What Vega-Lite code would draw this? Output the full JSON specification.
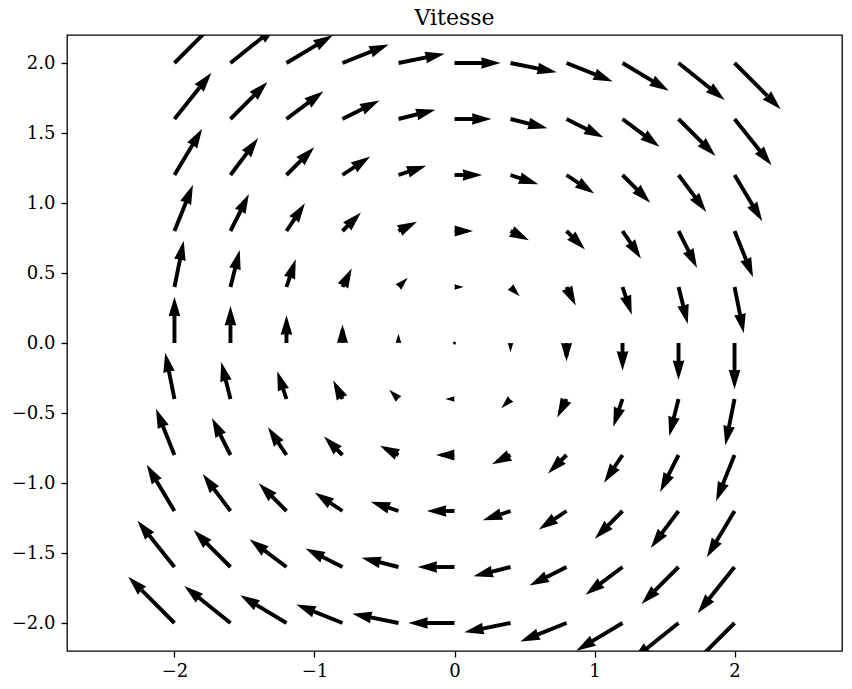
{
  "$schema": "https://vega.github.io/schema/vega-lite/v6.json",
  "width": 775,
  "height": 616,
  "autosize": {"type": "none"},
  "padding": {"left": 67, "top": 35, "right": 10, "bottom": 38},
  "title": {"text": "Vitesse", "font": "DejaVu Serif", "fontSize": 22, "fontWeight": "normal", "color": "black", "offset": 5.5},
  "config": {
    "view": {"stroke": "black", "strokeWidth": 1.3},
    "axis": {"domain": false, "grid": false, "ticks": true, "tickSize": 6, "tickWidth": 1.3, "tickColor": "black", "labelColor": "black", "labelFont": "DejaVu Serif", "labelFontSize": 18, "labelPadding": 5, "title": null}
  },
  "datasets": {
    "q": [
      {"x":-2,"y":2,"tx":-1.67,"ty":2.33,"sx":-1.766,"sy":2.234,"a":45,"m":2.828},
      {"x":-1.6,"y":2,"tx":-1.27,"ty":2.264,"sx":-1.366,"sy":2.187,"a":51.34,"m":2.561},
      {"x":-1.2,"y":2,"tx":-0.87,"ty":2.198,"sx":-0.966,"sy":2.14,"a":59.04,"m":2.332},
      {"x":-0.8,"y":2,"tx":-0.47,"ty":2.132,"sx":-0.566,"sy":2.094,"a":68.2,"m":2.154},
      {"x":-0.4,"y":2,"tx":-0.07,"ty":2.066,"sx":-0.166,"sy":2.047,"a":78.69,"m":2.04},
      {"x":0,"y":2,"tx":0.33,"ty":2,"sx":0.234,"sy":2,"a":90,"m":2},
      {"x":0.4,"y":2,"tx":0.73,"ty":1.934,"sx":0.634,"sy":1.953,"a":101.31,"m":2.04},
      {"x":0.8,"y":2,"tx":1.13,"ty":1.868,"sx":1.034,"sy":1.906,"a":111.8,"m":2.154},
      {"x":1.2,"y":2,"tx":1.53,"ty":1.802,"sx":1.434,"sy":1.86,"a":120.96,"m":2.332},
      {"x":1.6,"y":2,"tx":1.93,"ty":1.736,"sx":1.834,"sy":1.813,"a":128.66,"m":2.561},
      {"x":2,"y":2,"tx":2.33,"ty":1.67,"sx":2.234,"sy":1.766,"a":135,"m":2.828},

      {"x":-2,"y":1.6,"tx":-1.736,"ty":1.93,"sx":-1.813,"sy":1.834,"a":38.66,"m":2.561},
      {"x":-1.6,"y":1.6,"tx":-1.336,"ty":1.864,"sx":-1.413,"sy":1.787,"a":45,"m":2.263},
      {"x":-1.2,"y":1.6,"tx":-0.936,"ty":1.798,"sx":-1.013,"sy":1.74,"a":53.13,"m":2.0},
      {"x":-0.8,"y":1.6,"tx":-0.536,"ty":1.732,"sx":-0.613,"sy":1.694,"a":63.43,"m":1.789},
      {"x":-0.4,"y":1.6,"tx":-0.136,"ty":1.666,"sx":-0.213,"sy":1.647,"a":75.96,"m":1.649},
      {"x":0,"y":1.6,"tx":0.264,"ty":1.6,"sx":0.187,"sy":1.6,"a":90,"m":1.6},
      {"x":0.4,"y":1.6,"tx":0.664,"ty":1.534,"sx":0.587,"sy":1.553,"a":104.04,"m":1.649},
      {"x":0.8,"y":1.6,"tx":1.064,"ty":1.468,"sx":0.987,"sy":1.506,"a":116.57,"m":1.789},
      {"x":1.2,"y":1.6,"tx":1.464,"ty":1.402,"sx":1.387,"sy":1.46,"a":126.87,"m":2.0},
      {"x":1.6,"y":1.6,"tx":1.864,"ty":1.336,"sx":1.787,"sy":1.413,"a":135,"m":2.263},
      {"x":2,"y":1.6,"tx":2.264,"ty":1.27,"sx":2.187,"sy":1.366,"a":141.34,"m":2.561},

      {"x":-2,"y":1.2,"tx":-1.802,"ty":1.53,"sx":-1.86,"sy":1.434,"a":30.96,"m":2.332},
      {"x":-1.6,"y":1.2,"tx":-1.402,"ty":1.464,"sx":-1.46,"sy":1.387,"a":36.87,"m":2.0},
      {"x":-1.2,"y":1.2,"tx":-1.002,"ty":1.398,"sx":-1.06,"sy":1.34,"a":45,"m":1.697},
      {"x":-0.8,"y":1.2,"tx":-0.602,"ty":1.332,"sx":-0.66,"sy":1.294,"a":56.31,"m":1.442},
      {"x":-0.4,"y":1.2,"tx":-0.202,"ty":1.266,"sx":-0.26,"sy":1.247,"a":71.57,"m":1.265},
      {"x":0,"y":1.2,"tx":0.198,"ty":1.2,"sx":0.14,"sy":1.2,"a":90,"m":1.2},
      {"x":0.4,"y":1.2,"tx":0.598,"ty":1.134,"sx":0.54,"sy":1.153,"a":108.43,"m":1.265},
      {"x":0.8,"y":1.2,"tx":0.998,"ty":1.068,"sx":0.94,"sy":1.106,"a":123.69,"m":1.442},
      {"x":1.2,"y":1.2,"tx":1.398,"ty":1.002,"sx":1.34,"sy":1.06,"a":135,"m":1.697},
      {"x":1.6,"y":1.2,"tx":1.798,"ty":0.936,"sx":1.74,"sy":1.013,"a":143.13,"m":2.0},
      {"x":2,"y":1.2,"tx":2.198,"ty":0.87,"sx":2.14,"sy":0.966,"a":149.04,"m":2.332},

      {"x":-2,"y":0.8,"tx":-1.868,"ty":1.13,"sx":-1.906,"sy":1.034,"a":21.8,"m":2.154},
      {"x":-1.6,"y":0.8,"tx":-1.468,"ty":1.064,"sx":-1.506,"sy":0.987,"a":26.57,"m":1.789},
      {"x":-1.2,"y":0.8,"tx":-1.068,"ty":0.998,"sx":-1.106,"sy":0.94,"a":33.69,"m":1.442},
      {"x":-0.8,"y":0.8,"tx":-0.668,"ty":0.932,"sx":-0.706,"sy":0.894,"a":45,"m":1.131},
      {"x":-0.4,"y":0.8,"tx":-0.268,"ty":0.866,"sx":-0.306,"sy":0.847,"a":63.43,"m":0.894},
      {"x":0,"y":0.8,"tx":0.132,"ty":0.8,"sx":0.094,"sy":0.8,"a":90,"m":0.8},
      {"x":0.4,"y":0.8,"tx":0.532,"ty":0.734,"sx":0.494,"sy":0.753,"a":116.57,"m":0.894},
      {"x":0.8,"y":0.8,"tx":0.932,"ty":0.668,"sx":0.894,"sy":0.706,"a":135,"m":1.131},
      {"x":1.2,"y":0.8,"tx":1.332,"ty":0.602,"sx":1.294,"sy":0.66,"a":146.31,"m":1.442},
      {"x":1.6,"y":0.8,"tx":1.732,"ty":0.536,"sx":1.694,"sy":0.613,"a":153.43,"m":1.789},
      {"x":2,"y":0.8,"tx":2.132,"ty":0.47,"sx":2.094,"sy":0.566,"a":158.2,"m":2.154},

      {"x":-2,"y":0.4,"tx":-1.934,"ty":0.73,"sx":-1.953,"sy":0.634,"a":11.31,"m":2.04},
      {"x":-1.6,"y":0.4,"tx":-1.534,"ty":0.664,"sx":-1.553,"sy":0.587,"a":14.04,"m":1.649},
      {"x":-1.2,"y":0.4,"tx":-1.134,"ty":0.598,"sx":-1.153,"sy":0.54,"a":18.43,"m":1.265},
      {"x":-0.8,"y":0.4,"tx":-0.734,"ty":0.532,"sx":-0.753,"sy":0.494,"a":26.57,"m":0.894},
      {"x":-0.4,"y":0.4,"tx":-0.334,"ty":0.466,"sx":-0.353,"sy":0.447,"a":45,"m":0.566},
      {"x":0,"y":0.4,"tx":0.066,"ty":0.4,"sx":0.047,"sy":0.4,"a":90,"m":0.4},
      {"x":0.4,"y":0.4,"tx":0.466,"ty":0.334,"sx":0.447,"sy":0.353,"a":135,"m":0.566},
      {"x":0.8,"y":0.4,"tx":0.866,"ty":0.268,"sx":0.847,"sy":0.306,"a":153.43,"m":0.894},
      {"x":1.2,"y":0.4,"tx":1.266,"ty":0.202,"sx":1.247,"sy":0.26,"a":161.57,"m":1.265},
      {"x":1.6,"y":0.4,"tx":1.666,"ty":0.136,"sx":1.647,"sy":0.213,"a":165.96,"m":1.649},
      {"x":2,"y":0.4,"tx":2.066,"ty":0.07,"sx":2.047,"sy":0.166,"a":168.69,"m":2.04},

      {"x":-2,"y":0,"tx":-2,"ty":0.33,"sx":-2,"sy":0.234,"a":0,"m":2},
      {"x":-1.6,"y":0,"tx":-1.6,"ty":0.264,"sx":-1.6,"sy":0.187,"a":0,"m":1.6},
      {"x":-1.2,"y":0,"tx":-1.2,"ty":0.198,"sx":-1.2,"sy":0.14,"a":0,"m":1.2},
      {"x":-0.8,"y":0,"tx":-0.8,"ty":0.132,"sx":-0.8,"sy":0.094,"a":0,"m":0.8},
      {"x":-0.4,"y":0,"tx":-0.4,"ty":0.066,"sx":-0.4,"sy":0.047,"a":0,"m":0.4},
      {"x":0,"y":0,"tx":0,"ty":0,"sx":0,"sy":0,"a":0,"m":0},
      {"x":0.4,"y":0,"tx":0.4,"ty":-0.066,"sx":0.4,"sy":-0.047,"a":180,"m":0.4},
      {"x":0.8,"y":0,"tx":0.8,"ty":-0.132,"sx":0.8,"sy":-0.094,"a":180,"m":0.8},
      {"x":1.2,"y":0,"tx":1.2,"ty":-0.198,"sx":1.2,"sy":-0.14,"a":180,"m":1.2},
      {"x":1.6,"y":0,"tx":1.6,"ty":-0.264,"sx":1.6,"sy":-0.187,"a":180,"m":1.6},
      {"x":2,"y":0,"tx":2,"ty":-0.33,"sx":2,"sy":-0.234,"a":180,"m":2},

      {"x":-2,"y":-0.4,"tx":-2.066,"ty":-0.07,"sx":-2.047,"sy":-0.166,"a":348.69,"m":2.04},
      {"x":-1.6,"y":-0.4,"tx":-1.666,"ty":-0.136,"sx":-1.647,"sy":-0.213,"a":345.96,"m":1.649},
      {"x":-1.2,"y":-0.4,"tx":-1.266,"ty":-0.202,"sx":-1.247,"sy":-0.26,"a":341.57,"m":1.265},
      {"x":-0.8,"y":-0.4,"tx":-0.866,"ty":-0.268,"sx":-0.847,"sy":-0.306,"a":333.43,"m":0.894},
      {"x":-0.4,"y":-0.4,"tx":-0.466,"ty":-0.334,"sx":-0.447,"sy":-0.353,"a":315,"m":0.566},
      {"x":0,"y":-0.4,"tx":-0.066,"ty":-0.4,"sx":-0.047,"sy":-0.4,"a":270,"m":0.4},
      {"x":0.4,"y":-0.4,"tx":0.334,"ty":-0.466,"sx":0.353,"sy":-0.447,"a":225,"m":0.566},
      {"x":0.8,"y":-0.4,"tx":0.734,"ty":-0.532,"sx":0.753,"sy":-0.494,"a":206.57,"m":0.894},
      {"x":1.2,"y":-0.4,"tx":1.134,"ty":-0.598,"sx":1.153,"sy":-0.54,"a":198.43,"m":1.265},
      {"x":1.6,"y":-0.4,"tx":1.534,"ty":-0.664,"sx":1.553,"sy":-0.587,"a":194.04,"m":1.649},
      {"x":2,"y":-0.4,"tx":1.934,"ty":-0.73,"sx":1.953,"sy":-0.634,"a":191.31,"m":2.04},

      {"x":-2,"y":-0.8,"tx":-2.132,"ty":-0.47,"sx":-2.094,"sy":-0.566,"a":338.2,"m":2.154},
      {"x":-1.6,"y":-0.8,"tx":-1.732,"ty":-0.536,"sx":-1.694,"sy":-0.613,"a":333.43,"m":1.789},
      {"x":-1.2,"y":-0.8,"tx":-1.332,"ty":-0.602,"sx":-1.294,"sy":-0.66,"a":326.31,"m":1.442},
      {"x":-0.8,"y":-0.8,"tx":-0.932,"ty":-0.668,"sx":-0.894,"sy":-0.706,"a":315,"m":1.131},
      {"x":-0.4,"y":-0.8,"tx":-0.532,"ty":-0.734,"sx":-0.494,"sy":-0.753,"a":296.57,"m":0.894},
      {"x":0,"y":-0.8,"tx":-0.132,"ty":-0.8,"sx":-0.094,"sy":-0.8,"a":270,"m":0.8},
      {"x":0.4,"y":-0.8,"tx":0.268,"ty":-0.866,"sx":0.306,"sy":-0.847,"a":243.43,"m":0.894},
      {"x":0.8,"y":-0.8,"tx":0.668,"ty":-0.932,"sx":0.706,"sy":-0.894,"a":225,"m":1.131},
      {"x":1.2,"y":-0.8,"tx":1.068,"ty":-0.998,"sx":1.106,"sy":-0.94,"a":213.69,"m":1.442},
      {"x":1.6,"y":-0.8,"tx":1.468,"ty":-1.064,"sx":1.506,"sy":-0.987,"a":206.57,"m":1.789},
      {"x":2,"y":-0.8,"tx":1.868,"ty":-1.13,"sx":1.906,"sy":-1.034,"a":201.8,"m":2.154},

      {"x":-2,"y":-1.2,"tx":-2.198,"ty":-0.87,"sx":-2.14,"sy":-0.966,"a":329.04,"m":2.332},
      {"x":-1.6,"y":-1.2,"tx":-1.798,"ty":-0.936,"sx":-1.74,"sy":-1.013,"a":323.13,"m":2.0},
      {"x":-1.2,"y":-1.2,"tx":-1.398,"ty":-1.002,"sx":-1.34,"sy":-1.06,"a":315,"m":1.697},
      {"x":-0.8,"y":-1.2,"tx":-0.998,"ty":-1.068,"sx":-0.94,"sy":-1.106,"a":303.69,"m":1.442},
      {"x":-0.4,"y":-1.2,"tx":-0.598,"ty":-1.134,"sx":-0.54,"sy":-1.153,"a":288.43,"m":1.265},
      {"x":0,"y":-1.2,"tx":-0.198,"ty":-1.2,"sx":-0.14,"sy":-1.2,"a":270,"m":1.2},
      {"x":0.4,"y":-1.2,"tx":0.202,"ty":-1.266,"sx":0.26,"sy":-1.247,"a":251.57,"m":1.265},
      {"x":0.8,"y":-1.2,"tx":0.602,"ty":-1.332,"sx":0.66,"sy":-1.294,"a":236.31,"m":1.442},
      {"x":1.2,"y":-1.2,"tx":1.002,"ty":-1.398,"sx":1.06,"sy":-1.34,"a":225,"m":1.697},
      {"x":1.6,"y":-1.2,"tx":1.402,"ty":-1.464,"sx":1.46,"sy":-1.387,"a":216.87,"m":2.0},
      {"x":2,"y":-1.2,"tx":1.802,"ty":-1.53,"sx":1.86,"sy":-1.434,"a":210.96,"m":2.332},

      {"x":-2,"y":-1.6,"tx":-2.264,"ty":-1.27,"sx":-2.187,"sy":-1.366,"a":321.34,"m":2.561},
      {"x":-1.6,"y":-1.6,"tx":-1.864,"ty":-1.336,"sx":-1.787,"sy":-1.413,"a":315,"m":2.263},
      {"x":-1.2,"y":-1.6,"tx":-1.464,"ty":-1.402,"sx":-1.387,"sy":-1.46,"a":306.87,"m":2.0},
      {"x":-0.8,"y":-1.6,"tx":-1.064,"ty":-1.468,"sx":-0.987,"sy":-1.506,"a":296.57,"m":1.789},
      {"x":-0.4,"y":-1.6,"tx":-0.664,"ty":-1.534,"sx":-0.587,"sy":-1.553,"a":284.04,"m":1.649},
      {"x":0,"y":-1.6,"tx":-0.264,"ty":-1.6,"sx":-0.187,"sy":-1.6,"a":270,"m":1.6},
      {"x":0.4,"y":-1.6,"tx":0.136,"ty":-1.666,"sx":0.213,"sy":-1.647,"a":255.96,"m":1.649},
      {"x":0.8,"y":-1.6,"tx":0.536,"ty":-1.732,"sx":0.613,"sy":-1.694,"a":243.43,"m":1.789},
      {"x":1.2,"y":-1.6,"tx":0.936,"ty":-1.798,"sx":1.013,"sy":-1.74,"a":233.13,"m":2.0},
      {"x":1.6,"y":-1.6,"tx":1.336,"ty":-1.864,"sx":1.413,"sy":-1.787,"a":225,"m":2.263},
      {"x":2,"y":-1.6,"tx":1.736,"ty":-1.93,"sx":1.813,"sy":-1.834,"a":218.66,"m":2.561},

      {"x":-2,"y":-2,"tx":-2.33,"ty":-1.67,"sx":-2.234,"sy":-1.766,"a":315,"m":2.828},
      {"x":-1.6,"y":-2,"tx":-1.93,"ty":-1.736,"sx":-1.834,"sy":-1.813,"a":308.66,"m":2.561},
      {"x":-1.2,"y":-2,"tx":-1.53,"ty":-1.802,"sx":-1.434,"sy":-1.86,"a":300.96,"m":2.332},
      {"x":-0.8,"y":-2,"tx":-1.13,"ty":-1.868,"sx":-1.034,"sy":-1.906,"a":291.8,"m":2.154},
      {"x":-0.4,"y":-2,"tx":-0.73,"ty":-1.934,"sx":-0.634,"sy":-1.953,"a":281.31,"m":2.04},
      {"x":0,"y":-2,"tx":-0.33,"ty":-2,"sx":-0.234,"sy":-2,"a":270,"m":2},
      {"x":0.4,"y":-2,"tx":0.07,"ty":-2.066,"sx":0.166,"sy":-2.047,"a":258.69,"m":2.04},
      {"x":0.8,"y":-2,"tx":0.47,"ty":-2.132,"sx":0.566,"sy":-2.094,"a":248.2,"m":2.154},
      {"x":1.2,"y":-2,"tx":0.87,"ty":-2.198,"sx":0.966,"sy":-2.14,"a":239.04,"m":2.332},
      {"x":1.6,"y":-2,"tx":1.27,"ty":-2.264,"sx":1.366,"sy":-2.187,"a":231.34,"m":2.561},
      {"x":2,"y":-2,"tx":1.67,"ty":-2.33,"sx":1.766,"sy":-2.234,"a":225,"m":2.828}
    ]
  },
  "data": {"name": "q"},
  "layer": [
    {
      "transform": [{"filter": "datum.m > 0.7"}],
      "mark": {"type": "rule", "color": "black", "strokeWidth": 3.9, "strokeCap": "butt", "clip": true},
      "encoding": {
        "x": {"field": "x", "type": "quantitative", "scale": {"domain": [-2.7675, 2.7675], "nice": false, "zero": false}, "axis": {"values": [-2, -1, 0, 1, 2], "format": "d"}},
        "y": {"field": "y", "type": "quantitative", "scale": {"domain": [-2.2, 2.2], "nice": false, "zero": false}, "axis": {"values": [-2, -1.5, -1, -0.5, 0, 0.5, 1, 1.5, 2], "format": ".1f", "labelPadding": 6}},
        "x2": {"field": "sx"},
        "y2": {"field": "sy"}
      }
    },
    {
      "transform": [{"filter": "datum.m > 0"}],
      "mark": {"type": "point", "shape": "M0,0L-1.5,5L0,4.8L1.5,5Z", "filled": true, "color": "black", "opacity": 1, "strokeWidth": 0, "clip": true},
      "encoding": {
        "x": {"field": "tx", "type": "quantitative", "scale": {"domain": [-2.7675, 2.7675], "nice": false, "zero": false}, "axis": {"values": [-2, -1, 0, 1, 2], "format": "d"}},
        "y": {"field": "ty", "type": "quantitative", "scale": {"domain": [-2.2, 2.2], "nice": false, "zero": false}, "axis": {"values": [-2, -1.5, -1, -0.5, 0, 0.5, 1, 1.5, 2], "format": ".1f", "labelPadding": 6}},
        "angle": {"field": "a", "type": "quantitative", "scale": null},
        "size": {"field": "m", "type": "quantitative", "scale": {"type": "pow", "exponent": 2, "domain": [0, 0.84], "range": [0, 60.8], "clamp": true}, "legend": null}
      }
    },
    {
      "transform": [{"filter": "datum.m == 0"}],
      "mark": {"type": "point", "shape": "circle", "filled": true, "color": "black", "opacity": 1, "size": 9, "clip": true},
      "encoding": {
        "x": {"field": "x", "type": "quantitative", "scale": {"domain": [-2.7675, 2.7675], "nice": false, "zero": false}, "axis": {"values": [-2, -1, 0, 1, 2], "format": "d"}},
        "y": {"field": "y", "type": "quantitative", "scale": {"domain": [-2.2, 2.2], "nice": false, "zero": false}, "axis": {"values": [-2, -1.5, -1, -0.5, 0, 0.5, 1, 1.5, 2], "format": ".1f", "labelPadding": 6}}
      }
    }
  ]
}
